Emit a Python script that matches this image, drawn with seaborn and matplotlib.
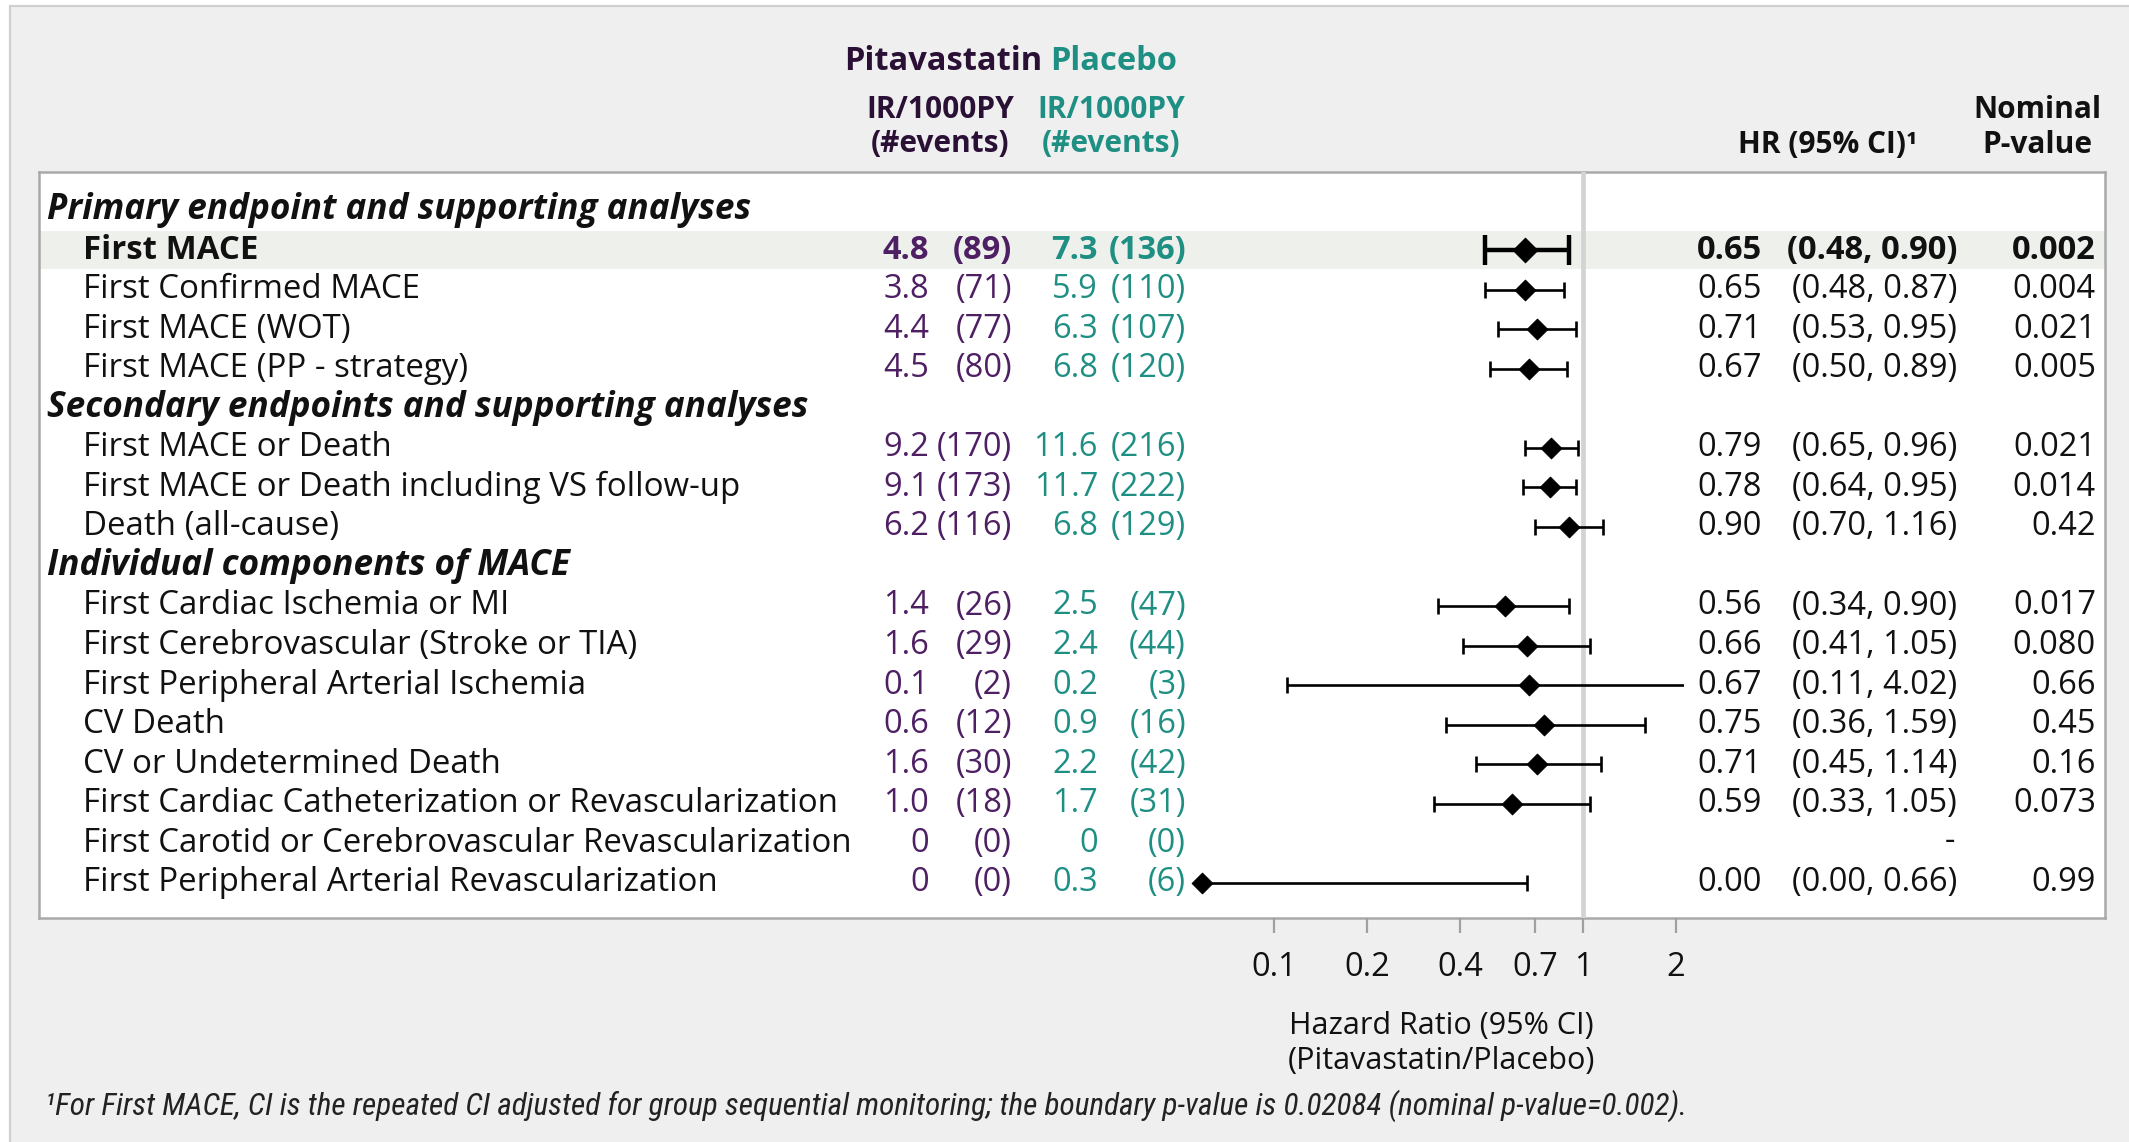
import numpy as np
import pandas as pd
import matplotlib
matplotlib.use("Agg")
import matplotlib.pyplot as plt
import seaborn as sns
from matplotlib import font_manager
from matplotlib.transforms import blended_transform_factory
from matplotlib.patches import Rectangle

# ---------------- data ----------------
row_kind = ["h", "b", "r", "r", "r", "h", "r", "r", "r", "h", "r", "r", "r", "r", "r", "r", "r", "r"]
row_labels = [
    "Primary endpoint and supporting analyses",
    "First MACE",
    "First Confirmed MACE",
    "First MACE (WOT)",
    "First MACE (PP - strategy)",
    "Secondary endpoints and supporting analyses",
    "First MACE or Death",
    "First MACE or Death including VS follow-up",
    "Death (all-cause)",
    "Individual components of MACE",
    "First Cardiac Ischemia or MI",
    "First Cerebrovascular (Stroke or TIA)",
    "First Peripheral Arterial Ischemia",
    "CV Death",
    "CV or Undetermined Death",
    "First Cardiac Catheterization or Revascularization",
    "First Carotid or Cerebrovascular Revascularization",
    "First Peripheral Arterial Revascularization",
]
pit_ir = ["4.8", "3.8", "4.4", "4.5", "9.2", "9.1", "6.2", "1.4", "1.6", "0.1", "0.6", "1.6", "1.0", "0", "0"]
pit_ev = ["(89)", "(71)", "(77)", "(80)", "(170)", "(173)", "(116)", "(26)", "(29)", "(2)", "(12)", "(30)", "(18)", "(0)", "(0)"]
pla_ir = ["7.3", "5.9", "6.3", "6.8", "11.6", "11.7", "6.8", "2.5", "2.4", "0.2", "0.9", "2.2", "1.7", "0", "0.3"]
pla_ev = ["(136)", "(110)", "(107)", "(120)", "(216)", "(222)", "(129)", "(47)", "(44)", "(3)", "(16)", "(42)", "(31)", "(0)", "(6)"]
hr = [0.65, 0.65, 0.71, 0.67, 0.79, 0.78, 0.90, 0.56, 0.66, 0.67, 0.75, 0.71, 0.59, np.nan, 0.00]
ci_lo = [0.48, 0.48, 0.53, 0.50, 0.65, 0.64, 0.70, 0.34, 0.41, 0.11, 0.36, 0.45, 0.33, np.nan, 0.00]
ci_hi = [0.90, 0.87, 0.95, 0.89, 0.96, 0.95, 1.16, 0.90, 1.05, 4.02, 1.59, 1.14, 1.05, np.nan, 0.66]
p_val = ["0.002", "0.004", "0.021", "0.005", "0.021", "0.014", "0.42", "0.017", "0.080", "0.66", "0.45", "0.16", "0.073", "", "0.99"]
x_ticks = [0.1, 0.2, 0.4, 0.7, 1, 2]
x_tick_labels = ["0.1", "0.2", "0.4", "0.7", "1", "2"]

# ---------------- style ----------------
sns.set_theme(style="white")


def pick(fams):
    for f in fams:
        try:
            font_manager.findfont(font_manager.FontProperties(family=f), fallback_to_default=False)
            return f
        except Exception:
            continue
    return "DejaVu Sans"


MAIN = pick(["Open Sans", "Noto Sans", "Lato", "DejaVu Sans"])
NARROW = pick(["Liberation Sans Narrow", "Roboto Condensed", "Open Sans", "DejaVu Sans"])
plt.rcParams["font.family"] = [MAIN, "DejaVu Sans"]

W, H = 2129, 1142
PURPLE_D = "#2b1035"
PURPLE = "#4e1f63"
TEAL = "#1f8f84"
FS = 23.5      # numbers
FSL = 23.8     # row labels
FSH = 25.3     # section headers
FSC = 21.5     # column headers
TXT = "#111111"

fig = plt.figure(figsize=(W / 100, H / 100), dpi=100, facecolor="white")

# outer grey box
fig.patches.append(Rectangle((10 / W, -0.05), 1.1, 1 - 6 / H + 0.05, transform=fig.transFigure,
                             facecolor="#efefef", edgecolor="#d0d0d0", lw=1.6, zorder=-5))

# panel axes in row units
ROW0, ROWH = 210.5, 39.55
top_r = (172 - ROW0) / ROWH
bot_r = (918 - ROW0) / ROWH
panel = [39 / W, 1 - 918 / H, (2105 - 39) / W, (918 - 172) / H]
axp = fig.add_axes(panel)
axp.set_xlim(0, 1)
axp.set_ylim(bot_r, top_r)
axp.set_xticks([])
axp.set_yticks([])
axp.set_facecolor("white")
for s in axp.spines.values():
    s.set_color("#a9a9a9")
    s.set_linewidth(1.8)
axp.axhspan(1 - 0.47, 1 + 0.47, color="#eef0eb", lw=0, zorder=0)

tr = blended_transform_factory(fig.transFigure, axp.transData)

# forest axes
XMIN, XMAX = 0.0585, 2.12
axf = fig.add_axes([1202 / W, panel[1], (1684 - 1202) / W, panel[3]])
axf.patch.set_alpha(0)
axf.set_xscale("log")
axf.set_xlim(XMIN, XMAX)
axf.set_ylim(bot_r, top_r)
for s in axf.spines.values():
    s.set_visible(False)
axf.axvline(1, color="#d3d3d3", lw=3.4, zorder=1)

rows_data = [i for i, k in enumerate(row_kind) if k != "h"]
df = pd.DataFrame({"row": rows_data, "hr": hr, "lo": ci_lo, "hi": ci_hi,
                   "bold": [row_kind[i] == "b" for i in rows_data]})
dfp = df.dropna().copy()
dfp["hr_c"] = dfp["hr"].clip(lower=XMIN)
dfp["lo_c"] = dfp["lo"].clip(lower=XMIN)

for _, r in dfp.iterrows():
    b = r["bold"]
    axf.errorbar([r["hr_c"]], [r["row"]],
                 xerr=[[r["hr_c"] - r["lo_c"]], [r["hi"] - r["hr_c"]]],
                 fmt="none", ecolor="black", elinewidth=3.2 if b else 1.9,
                 capsize=10.5 if b else 5.8, capthick=3.2 if b else 1.9, zorder=3)

sns.scatterplot(data=dfp[~dfp["bold"]], x="hr_c", y="row", marker="D", s=110, color="black",
                edgecolor="black", linewidth=0.8, ax=axf, zorder=4, clip_on=False, legend=False)
sns.scatterplot(data=dfp[dfp["bold"]], x="hr_c", y="row", marker="D", s=155, color="black",
                edgecolor="black", linewidth=0.8, ax=axf, zorder=4, clip_on=False, legend=False)
axf.set_xlim(XMIN, XMAX)
axf.set_ylim(bot_r, top_r)
axf.set_xlabel("")
axf.set_ylabel("")
axf.set_yticks([])
axf.set_xticks(x_ticks)
axf.set_xticklabels(x_tick_labels)
axf.xaxis.set_minor_locator(matplotlib.ticker.NullLocator())
axf.tick_params(axis="x", direction="out", length=11, width=1.6, color="#a0a0a0",
                labelsize=FS, labelcolor=TXT, pad=13, bottom=True)

fig.text(1441 / W, 1 - 1026 / H, "Hazard Ratio (95% CI)", ha="center", va="center",
         fontsize=22, color=TXT)
fig.text(1441 / W, 1 - 1061 / H, "(Pitavastatin/Placebo)", ha="center", va="center",
         fontsize=22, color=TXT)

# ---------------- row texts ----------------
X_PIT_IR, X_PIT_EV, X_PLA_IR, X_PLA_EV = 929, 1012, 1098, 1186
k = 0
for i, (kind, lab) in enumerate(zip(row_kind, row_labels)):
    if kind == "h":
        axp.text(47 / W, i, lab, transform=tr, ha="left", va="center", fontsize=FSH,
                 fontweight="bold", fontstyle="italic", color=TXT)
        continue
    fw = "bold" if kind == "b" else "normal"
    axp.text(83 / W, i, lab, transform=tr, ha="left", va="center", fontsize=FSL, fontweight=fw, color=TXT)
    axp.text(X_PIT_IR / W, i, pit_ir[k], transform=tr, ha="right", va="center", fontsize=FS, fontweight=fw, color=PURPLE)
    axp.text(X_PIT_EV / W, i, pit_ev[k], transform=tr, ha="right", va="center", fontsize=FS, fontweight=fw, color=PURPLE)
    axp.text(X_PLA_IR / W, i, pla_ir[k], transform=tr, ha="right", va="center", fontsize=FS, fontweight=fw, color=TEAL)
    axp.text(X_PLA_EV / W, i, pla_ev[k], transform=tr, ha="right", va="center", fontsize=FS, fontweight=fw, color=TEAL)
    if np.isnan(hr[k]):
        axp.text(1955 / W, i - 0.05, "-", transform=tr, ha="right", va="center", fontsize=FS, color=TXT)
    else:
        axp.text(1762 / W, i, f"{hr[k]:.2f}", transform=tr, ha="right", va="center", fontsize=FS,
                 fontweight=fw, color=TXT)
        axp.text(1957 / W, i, f"({ci_lo[k]:.2f}, {ci_hi[k]:.2f})", transform=tr, ha="right", va="center",
                 fontsize=FS, fontweight=fw, color=TXT)
    axp.text(2096 / W, i, p_val[k], transform=tr, ha="right", va="center", fontsize=FS, fontweight=fw, color=TXT)
    k += 1

# ---------------- column headers ----------------
def ftxt(x, y, s, **kw):
    fig.text(x / W, 1 - y / H, s, **kw)

ftxt(1042, 62, "Pitavastatin", ha="right", va="center", fontsize=23.5, fontweight="bold", color=PURPLE_D)
ftxt(1050, 62, "Placebo", ha="left", va="center", fontsize=23.5, fontweight="bold", color=TEAL)
ftxt(940, 110, "IR/1000PY", ha="center", va="center", fontsize=FSC, fontweight="bold", color=PURPLE_D)
ftxt(940, 144, "(#events)", ha="center", va="center", fontsize=FSC, fontweight="bold", color=PURPLE_D)
ftxt(1111, 110, "IR/1000PY", ha="center", va="center", fontsize=FSC, fontweight="bold", color=TEAL)
ftxt(1111, 144, "(#events)", ha="center", va="center", fontsize=FSC, fontweight="bold", color=TEAL)
ftxt(1828, 145, "HR (95% CI)\u00b9", ha="center", va="center", fontsize=FSC, fontweight="bold", color=TXT)
ftxt(2037, 110, "Nominal", ha="center", va="center", fontsize=FSC, fontweight="bold", color=TXT)
ftxt(2037, 145, "P-value", ha="center", va="center", fontsize=FSC, fontweight="bold", color=TXT)

# ---------------- footnote ----------------
fig.text(45 / W, 1 - 1106 / H,
         "\u00b9For First MACE, CI is the repeated CI adjusted for group sequential monitoring; "
         "the boundary p-value is 0.02084 (nominal p-value=0.002).",
         ha="left", va="center", fontsize=22.5, fontstyle="italic", color="#222222",
         family=[NARROW, MAIN, "DejaVu Sans"])

fig.savefig("out.png", dpi=100, facecolor="white")
